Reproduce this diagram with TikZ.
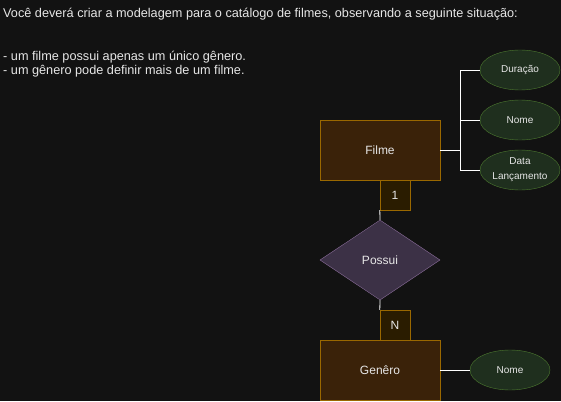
\documentclass[tikz,border=0pt]{standalone}
\usepackage{fontspec}
\setmainfont{Liberation Sans}
\usetikzlibrary{shapes.geometric}
\definecolor{bg}{HTML}{121212}
\definecolor{txt}{HTML}{E6E6E6}
\definecolor{entfill}{HTML}{3A2209}
\definecolor{entline}{HTML}{9A6800}
\definecolor{cardfill}{HTML}{2A1C00}
\definecolor{relfill}{HTML}{3C3146}
\definecolor{relline}{HTML}{8A6D99}
\definecolor{attfill}{HTML}{1F2F1E}
\definecolor{attline}{HTML}{4D7A30}
\begin{document}
\begin{tikzpicture}[x=1pt, y=-1pt,
    every node/.style={text=txt, font=\fontsize{12}{14}\selectfont},
    enunc/.style={anchor=base west, inner sep=0pt, font=\fontsize{12.7}{14}\selectfont},
    entity/.style={draw=entline, fill=entfill, minimum width=120pt, minimum height=60pt, inner sep=0pt},
    card/.style={draw=entline, fill=cardfill, minimum width=30pt, minimum height=30pt, inner sep=0pt},
    relation/.style={draw=relline, fill=relfill, diamond, minimum width=120pt, minimum height=80pt, inner sep=0pt, aspect=1.5},
    attr/.style={draw=attline, fill=attfill, ellipse, minimum width=80pt, minimum height=40pt, inner sep=0pt, font=\fontsize{10}{15}\selectfont, align=center},
    link/.style={draw=white, line width=0.8pt}]
  \fill [bg] (0,0) rectangle (561,401);
  \useasboundingbox (0,0) rectangle (561,401);
  % enunciado
  \node [enunc] (enunciado) at (3,18) {Você deverá criar a modelagem para o catálogo de filmes, observando a seguinte situação:};
  \node [enunc] (regra1) at (3,61) {- um filme possui apenas um único gênero.};
  \node [enunc] (regra2) at (3,75) {- um gênero pode definir mais de um filme.};
  % entidades
  \node [entity] (filme) at (380,150) {Filme};
  \node [entity] (genero) at (380,370) {Genêro};
  \node [relation] (possui) at (380,260) {Possui};
  \node [card] (um) at (395,195) {1};
  \node [card] (n) at (395,325) {N};
  % atributos
  \node [attr] (duracao) at (520,70) {Duração};
  \node [attr] (nome) at (520,120) {Nome};
  \node [attr] (data) at (520,170) {Data\\Lançamento};
  \node [attr] (nomeg) at (510,370) {Nome};
  \coordinate (junta) at (460,150);
  \draw [link] (um.south west) -- (possui.north);
  \draw [link] (possui.south) -- (n.north west);
  \draw [link] (filme.east) -- (junta);
  \draw [link] (junta) |- (duracao.west);
  \draw [link] (junta) |- (nome.west);
  \draw [link] (junta) |- (data.west);
  \draw [link] (genero.east) -- (nomeg.west);
\end{tikzpicture}
\end{document}
